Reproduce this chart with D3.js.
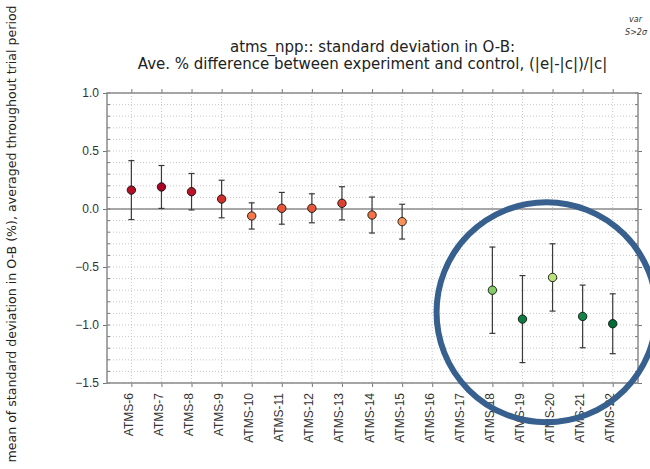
<!DOCTYPE html>
<html>
<head>
<meta charset="utf-8">
<script src="https://cdn.jsdelivr.net/npm/d3@7"></script>
<style>
  body { margin: 0; background: #fff; }
  svg { display: block; font-family: "DejaVu Sans", sans-serif; }
  .tick text { fill: #333; }
</style>
</head>
<body>
<div id="chart"></div>
<script>
// channels and the averaged % difference per channel (null = no data)
const channels = ["ATMS-6", "ATMS-7", "ATMS-8", "ATMS-9", "ATMS-10", "ATMS-11", "ATMS-12",
  "ATMS-13", "ATMS-14", "ATMS-15", "ATMS-16", "ATMS-17", "ATMS-18", "ATMS-19",
  "ATMS-20", "ATMS-21", "ATMS-22"];
const meanDiff = [0.163, 0.19, 0.149, 0.086, -0.06, 0.006, 0.006, 0.049, -0.052, -0.109,
  null, null, -0.70, -0.949, -0.59, -0.926, -0.989];
const errHalf = [0.254, 0.185, 0.157, 0.162, 0.113, 0.137, 0.125, 0.143, 0.155, 0.15,
  null, null, 0.372, 0.375, 0.29, 0.27, 0.258];
const yTicks = [-1.5, -1.0, -0.5, 0.0, 0.5, 1.0];

const width = 650, height = 469;
const margin = {top: 93, right: 12, bottom: 86, left: 107};

const svg = d3.select("#chart").append("svg")
    .attr("width", width)
    .attr("height", height);

const x = d3.scaleLinear()
    .domain([-0.81, channels.length - 0.16])
    .range([margin.left, width - margin.right]);
const y = d3.scaleLinear()
    .domain([-1.5, 1.0])
    .range([height - margin.bottom, margin.top]);

// marker colour follows the value (red = larger, green = smaller)
const color = v => d3.interpolateRdYlGn((0.2 - v) / 1.2);

const idx = d3.range(channels.length);
const minorY = d3.range(-15, 11).map(d => d / 10);

// dotted grid
const grid = svg.append("g")
    .attr("stroke", "#c8c8c8")
    .attr("stroke-width", 1)
    .attr("stroke-dasharray", "1,2");
grid.selectAll("line.h").data(minorY).join("line")
    .attr("class", "h")
    .attr("x1", margin.left).attr("x2", width - margin.right)
    .attr("y1", d => y(d)).attr("y2", d => y(d));
grid.selectAll("line.v").data(idx).join("line")
    .attr("class", "v")
    .attr("x1", d => x(d)).attr("x2", d => x(d))
    .attr("y1", margin.top).attr("y2", height - margin.bottom);

// zero line
svg.append("line")
    .attr("x1", margin.left).attr("x2", width - margin.right)
    .attr("y1", y(0)).attr("y2", y(0))
    .attr("stroke", "#8c8c8c")
    .attr("stroke-width", 1.5);

// minor ticks inside both side spines
const minor = svg.append("g").attr("stroke", "#777").attr("stroke-width", 1);
minor.selectAll("line.l").data(minorY).join("line")
    .attr("class", "l")
    .attr("x1", margin.left).attr("x2", margin.left + 3)
    .attr("y1", d => y(d)).attr("y2", d => y(d));
minor.selectAll("line.r").data(minorY).join("line")
    .attr("class", "r")
    .attr("x1", width - margin.right - 3).attr("x2", width - margin.right)
    .attr("y1", d => y(d)).attr("y2", d => y(d));

// axes
const yAxis = d3.axisLeft(y).tickValues(yTicks).tickFormat(d3.format(".1f"))
    .tickSize(4).tickPadding(4).tickSizeOuter(0);
svg.append("g")
    .attr("transform", `translate(${margin.left},0)`)
    .call(yAxis)
    .call(g => g.select(".domain").remove())
    .call(g => g.selectAll(".tick line").attr("stroke", "#777"))
    .call(g => g.selectAll(".tick text").attr("font-size", 12));

svg.append("g")
    .attr("transform", `translate(${width - margin.right},0)`)
    .call(d3.axisRight(y).tickValues(yTicks).tickSize(4).tickSizeOuter(0).tickFormat(""))
    .call(g => g.select(".domain").remove())
    .call(g => g.selectAll(".tick line").attr("stroke", "#777"));

const xAxis = d3.axisBottom(x).tickValues(idx).tickFormat(i => channels[i])
    .tickSize(4).tickSizeOuter(0);
svg.append("g")
    .attr("transform", `translate(0,${height - margin.bottom})`)
    .call(xAxis)
    .call(g => g.select(".domain").remove())
    .call(g => g.selectAll(".tick line").attr("stroke", "#777"))
    .call(g => g.selectAll(".tick text")
        .attr("font-size", 12)
        .attr("text-anchor", "end")
        .attr("transform", "translate(1,10) rotate(-90)")
        .attr("x", 0).attr("y", 0).attr("dy", 0));

svg.append("g")
    .attr("transform", `translate(0,${margin.top})`)
    .call(d3.axisTop(x).tickValues(idx).tickSize(4).tickSizeOuter(0).tickFormat(""))
    .call(g => g.select(".domain").remove())
    .call(g => g.selectAll(".tick line").attr("stroke", "#777"));

// frame
svg.append("rect")
    .attr("x", margin.left).attr("y", margin.top)
    .attr("width", width - margin.right - margin.left)
    .attr("height", height - margin.bottom - margin.top)
    .attr("fill", "none")
    .attr("stroke", "#8a8a8a")
    .attr("stroke-width", 1.5);

// error bars
const pts = idx.filter(i => meanDiff[i] !== null);
const bars = svg.append("g").attr("stroke", "#3a3a3a").attr("stroke-width", 1.2);
bars.selectAll("line.bar").data(pts).join("line")
    .attr("class", "bar")
    .attr("x1", i => x(i)).attr("x2", i => x(i))
    .attr("y1", i => y(meanDiff[i] + errHalf[i]))
    .attr("y2", i => y(meanDiff[i] - errHalf[i]));
bars.selectAll("line.capTop").data(pts).join("line")
    .attr("class", "capTop")
    .attr("x1", i => x(i) - 3).attr("x2", i => x(i) + 3)
    .attr("y1", i => y(meanDiff[i] + errHalf[i]))
    .attr("y2", i => y(meanDiff[i] + errHalf[i]));
bars.selectAll("line.capBot").data(pts).join("line")
    .attr("class", "capBot")
    .attr("x1", i => x(i) - 3).attr("x2", i => x(i) + 3)
    .attr("y1", i => y(meanDiff[i] - errHalf[i]))
    .attr("y2", i => y(meanDiff[i] - errHalf[i]));

// markers
svg.append("g").selectAll("circle").data(pts).join("circle")
    .attr("cx", i => x(i))
    .attr("cy", i => y(meanDiff[i]))
    .attr("r", 4.2)
    .attr("fill", i => color(meanDiff[i]))
    .attr("stroke", "#111")
    .attr("stroke-width", 0.9);

// title
const title = svg.append("text")
    .attr("text-anchor", "middle")
    .attr("font-size", 15)
    .attr("fill", "#222");
title.append("tspan")
    .attr("x", (margin.left + width - margin.right) / 2).attr("y", 52)
    .text("atms_npp:: standard deviation in O-B:");
title.append("tspan")
    .attr("x", (margin.left + width - margin.right) / 2).attr("y", 69)
    .text("Ave. % difference between experiment and control, (|e|-|c|)/|c|");

// y label
svg.append("text")
    .attr("transform", `translate(16,234) rotate(-90)`)
    .attr("text-anchor", "middle")
    .attr("font-size", 12.6)
    .attr("fill", "#222")
    .text("mean of standard deviation in O-B (%), averaged throughout trial period");

// legend fragment in the corner
svg.append("text")
    .attr("x", 642).attr("y", 22)
    .attr("text-anchor", "end")
    .attr("font-size", 8).attr("font-style", "italic")
    .attr("fill", "#333")
    .text("var");
svg.append("text")
    .attr("x", 647).attr("y", 35)
    .attr("text-anchor", "end")
    .attr("font-size", 8).attr("font-style", "italic")
    .attr("fill", "#333")
    .text("S>2σ");

// highlight ring around the green channels
svg.append("circle")
    .attr("cx", x(13.8))
    .attr("cy", y(-0.89))
    .attr("r", 110)
    .attr("fill", "none")
    .attr("stroke", "#37608f")
    .attr("stroke-width", 6);
</script>
</body>
</html>
